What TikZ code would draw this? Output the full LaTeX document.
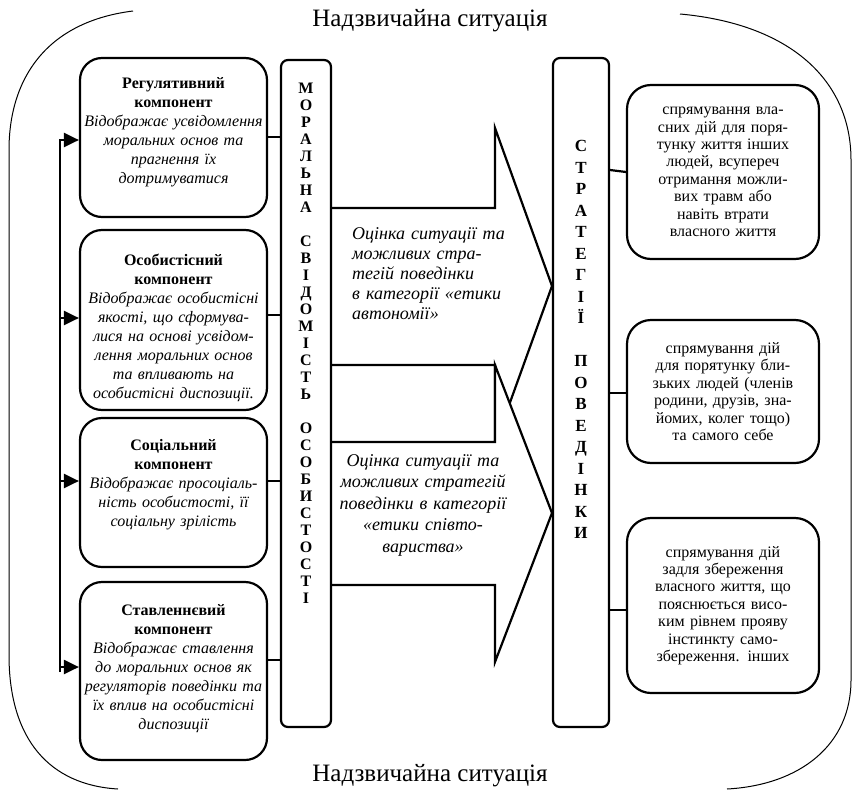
\documentclass[tikz,border=0pt]{standalone}
\usepackage{fontspec}
\setmainfont{Liberation Serif}
\usetikzlibrary{arrows.meta,calc}

\begin{document}
\begin{tikzpicture}[x=1pt,y=-1pt,
    box/.style={shape=rectangle,draw=black,line width=2.2pt,rounded corners=22pt,minimum width=187pt,inner sep=0pt},
    rbox/.style={shape=rectangle,draw=black,line width=2.2pt,rounded corners=24pt,minimum width=192pt,text width=180pt,align=center,inner sep=0pt,font=\fontsize{16}{17.4}\selectfont},
    col/.style={shape=rectangle,draw=black,line width=2.2pt,rounded corners=7pt,inner sep=0pt},
    ltext/.style={anchor=north,text width=190pt,align=center,inner sep=0pt,font=\fontsize{16}{19}\selectfont},
    big/.style={draw=black,line width=2.2pt,fill=white,line join=miter},
    con/.style={line width=2.2pt},
    arr/.style={line width=2.2pt,-{Triangle[length=15pt,width=14pt]}},
    frame/.style={line width=1pt},
    title/.style={font=\fontsize{25}{25}\selectfont,inner sep=0pt}]

   \useasboundingbox (0,0) rectangle (853,792);

   % frame
   \draw[frame] (133,11) .. controls (45,22) and (9,80) .. (9,150) -- (9,655) .. controls (9,740) and (50,785) .. (118,789);
   \draw[frame] (680,14) .. controls (790,24) and (851,80) .. (851,160) -- (851,680) .. controls (851,745) and (800,785) .. (727,789);
   \node[title] (t) at (430,21) {Надзвичайна ситуація};
   \node[title] (b) at (430,776) {Надзвичайна ситуація};

   % big arrows
   \draw[big] (331,208) -- (495,208) -- (495,128) -- (552,286) -- (495,444) -- (495,365) -- (331,365);
   \draw[big] (331,442) -- (495,442) -- (495,365) -- (552,513) -- (495,662) -- (495,585) -- (331,585);
   \node[anchor=north west,text width=170pt,align=left,inner sep=0pt,font=\fontsize{18}{20}\selectfont\itshape] (a1) at (352,227)
      {Оцінка ситуації та\\можливих стра-\\тегій поведінки\\в категорії «етики\\автономії»};
   \node[anchor=north,text width=180pt,align=center,inner sep=0pt,font=\fontsize{18}{21.5}\selectfont\itshape] (a2) at (423,454)
      {Оцінка ситуації та\\можливих стратегій\\поведінки в категорії\\«етики співто-\\вариства»};

   % columns
   \node[col,minimum width=50pt,minimum height=667pt] (m) at (306,393.5) {};
   \node[col,minimum width=56pt,minimum height=669pt] (s) at (581,392.5) {};
   \node[align=center,inner sep=0pt,font=\fontsize{16}{17}\selectfont\bfseries] (mt) at (306,343)
      {М\\О\\Р\\А\\Л\\Ь\\Н\\А\\[17pt]С\\В\\І\\Д\\О\\М\\І\\С\\Т\\Ь\\[17pt]О\\С\\О\\Б\\И\\С\\Т\\О\\С\\Т\\І};
   \node[align=center,inner sep=0pt,font=\fontsize{17}{21.5}\selectfont\bfseries] (st) at (581,339.5)
      {С\\Т\\Р\\А\\Т\\Е\\Г\\І\\Ї\\[21.5pt]П\\О\\В\\Е\\Д\\І\\Н\\К\\И};

   % components
   \node[box,minimum height=159pt] (1) at (173.5,137.5) {};
   \node[box,minimum height=180pt] (2) at (173.5,320) {};
   \node[box,minimum height=149pt] (3) at (173.5,492.5) {};
   \node[box,minimum height=178pt] (4) at (173.5,671) {};
   \node[ltext] (1t) at (173.5,77) {{\bfseries Регулятивний\\компонент}\\\itshape Відображає усвідомлення\\моральних  основ та\\прагнення їх\\дотримуватися};
   \node[ltext] (2t) at (173.5,254) {{\bfseries Особистісний\\компонент}\\\itshape Відображає особистісні\\якості, що сформува-\\лися на основі усвідом-\\лення моральних основ\\та впливають на\\особистісні диспозиції.};
   \node[ltext] (3t) at (173.5,439) {{\bfseries Соціальний\\компонент}\\\itshape Відображає просоціаль-\\ність особистості, її\\соціальну зрілість};
   \node[ltext] (4t) at (173.5,604) {{\bfseries Ставленнєвий\\компонент}\\\itshape Відображає ставлення\\до моральних основ як\\регуляторів поведінки та\\їх вплив на особистісні\\диспозиції};

   % strategies
   \node[rbox,minimum height=174pt] (5) at (723,172) {спрямування вла-\\сних дій для поря-\\тунку життя інших\\людей, всупереч\\отримання можли-\\вих травм або\\навіть втрати\\власного життя};
   \node[rbox,minimum height=143pt] (6) at (723,391.5) {спрямування дій\\для порятунку бли-\\зьких людей (членів\\родини, друзів, зна-\\йомих, колег тощо)\\та самого себе};
   \node[rbox,minimum height=175pt] (7) at (723,605.5) {спрямування дій\\задля збереження\\власного життя, що\\пояснюється висо-\\ким рівнем прояву\\інстинкту само-\\збереження. інших};

   % links
   \draw[con] ($(1.east)+(0,-0.5)$) -- ($(1.east -| m.west)+(0,-0.5)$);
   \draw[con] ($(2.east)+(0,-5)$) -- ($(2.east -| m.west)+(0,-5)$);
   \draw[con] ($(3.east)+(0,-11.5)$) -- ($(3.east -| m.west)+(0,-11.5)$);
   \draw[con] ($(4.east)+(0,-11)$) -- ($(4.east -| m.west)+(0,-11)$);
   \coordinate (v1) at ($(1.west)+(-19,2.5)$);
   \coordinate (v4) at ($(4.west)+(-19,1)$);
   \draw[arr] (v4) -- (v1) -- ($(1.west)+(0,2.5)$);
   \draw[arr] ($(2.west)+(-19,-2)$) -- ($(2.west)+(0,-2)$);
   \draw[arr] ($(3.west)+(-19,-11.5)$) -- ($(3.west)+(0,-11.5)$);
   \draw[arr] ($(4.west)+(-19,-4)$) -- ($(4.west)+(0,-4)$);
   \draw[con] ($(5.west -| s.east)+(0,-2)$) -- (5.west);
   \draw[con] ($(6.west -| s.east)+(0,1.5)$) -- ($(6.west)+(0,1.5)$);
   \draw[con] ($(7.west -| s.east)+(0,4.5)$) -- ($(7.west)+(0,4.5)$);

\end{tikzpicture}
\end{document}
